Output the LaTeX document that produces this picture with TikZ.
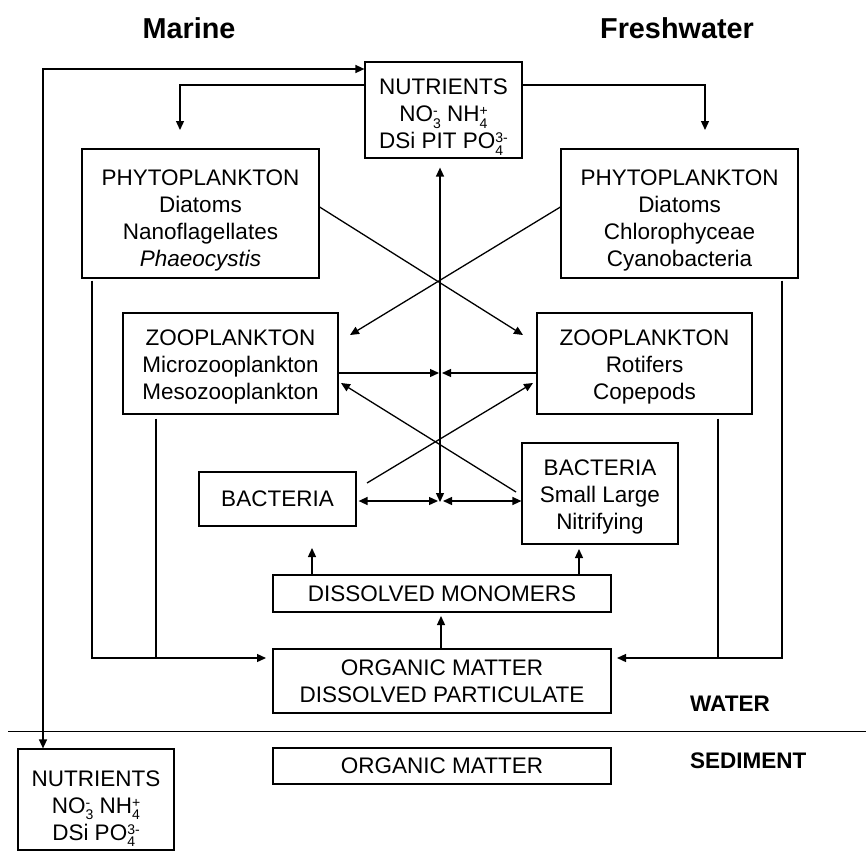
\documentclass[tikz,border=0pt]{standalone}
\usepackage{fontspec}
\setmainfont{Liberation Sans}
\usetikzlibrary{arrows.meta}
\newcommand\sbsp[2]{\smash{\fontsize{14}{14}\selectfont\setbox0=\hbox{#1}\setbox2=\hbox{#2}\dimen0=\wd0 \ifdim\wd2>\dimen0 \dimen0=\wd2\fi\hbox to\dimen0{\rlap{\raisebox{-6.5pt}{\box0}}\raisebox{6pt}{\box2}\hfil}}}
\newcommand\topstrut[1]{\rule{0pt}{#1}}
\begin{document}
\begin{tikzpicture}[x=1pt,y=-1pt,
  >={Triangle[length=9pt,width=8pt]},
  box/.style={draw, line width=1.2pt, inner sep=0pt, align=center, font=\fontsize{22.5}{27}\selectfont},
  ln/.style={line width=1.3pt},
  lab/.style={font=\bfseries\fontsize{22.5}{27}\selectfont, anchor=west, inner sep=0pt},
  head/.style={font=\bfseries\fontsize{28.8}{30}\selectfont, inner sep=0pt}]
\useasboundingbox (0,0) rectangle (866,851);
% headers
\node[head] (marine) at (189,28) {Marine};
\node[head] (fresh) at (677,28) {Freshwater};
% boxes
\node[box, minimum width=157pt, minimum height=96pt] (nutT) at (443.5,110) {\topstrut{24pt}NUTRIENTS\\NO\sbsp{3}{-} NH\sbsp{4}{+}\\DSi PIT PO\sbsp{4}{3-}};
\node[box, minimum width=237pt, minimum height=129pt] (phyM) at (200.5,213.5) {\topstrut{30pt}PHYTOPLANKTON\\Diatoms\\Nanoflagellates\\\textit{Phaeocystis}};
\node[box, minimum width=237pt, minimum height=129pt] (phyF) at (679.5,213.5) {\topstrut{30pt}PHYTOPLANKTON\\Diatoms\\Chlorophyceae\\Cyanobacteria};
\node[box, minimum width=215pt, minimum height=101pt] (zooM) at (230.5,363.5) {\topstrut{22pt}ZOOPLANKTON\\Microzooplankton\\Mesozooplankton};
\node[box, minimum width=215pt, minimum height=101pt] (zooF) at (644.5,363.5) {\topstrut{22pt}ZOOPLANKTON\\Rotifers\\Copepods};
\node[box, minimum width=157pt, minimum height=54pt] (bacM) at (277.5,499) {BACTERIA};
\node[box, minimum width=156pt, minimum height=101pt] (bacF) at (600,493.5) {\topstrut{22pt}BACTERIA\\Small Large\\Nitrifying};
\node[box, minimum width=338pt, minimum height=37pt] (dism) at (442,593.5) {DISSOLVED MONOMERS};
\node[box, minimum width=338pt, minimum height=64pt] (omW) at (442,681) {ORGANIC MATTER\\DISSOLVED PARTICULATE};
\node[box, minimum width=338pt, minimum height=36pt] (omS) at (442,766) {ORGANIC MATTER};
\node[box, minimum width=156pt, minimum height=101pt] (nutS) at (96,799.5) {\topstrut{28pt}NUTRIENTS\\NO\sbsp{3}{-} NH\sbsp{4}{+}\\DSi PO\sbsp{4}{3-}};
% labels
\node[lab] (water) at (690,704) {WATER};
\node[lab] (sed) at (690,761) {SEDIMENT};
% separator
\coordinate (sepL) at (8,731);
\coordinate (sepR) at (866,731);
\draw[line width=1pt] (sepL) -- (sepR);
% coordinates
\coordinate (cL) at (43,69);
\coordinate (cA) at (180,85);
\coordinate (cB) at (705,85);
\coordinate (ctr) at (440,502);
\coordinate (zFtip) at (523,335);
\coordinate (zMtip) at (350,335);
\coordinate (hM) at (439,373);
\coordinate (hF) at (442,373);
\coordinate (bMs) at (367,483);
\coordinate (bFs) at (516,492);
\coordinate (zFb) at (533,383);
\coordinate (zMb) at (341,383);
\coordinate (bl) at (438,501);
\coordinate (br) at (443,501);
\coordinate (d1) at (312,548);
\coordinate (d2) at (579,549);
\coordinate (d3) at (441,616);
\coordinate (fL) at (92,658);
\coordinate (fL2) at (156,658);
\coordinate (fLt) at (266,658);
\coordinate (fR) at (782,658);
\coordinate (fR2) at (718,658);
\coordinate (fRt) at (617,658);
% connectors
\draw[ln,<->] (nutT.west |- cL) -- (cL) -- (cL |- nutS.north);
\draw[ln,->] (nutT.west |- cA) -- (cA) -- ++(0,45);
\draw[ln,->] (nutT.east |- cB) -- (cB) -- ++(0,45);
\draw[ln,<->,shorten <=9pt] (ctr |- nutT.south) -- (ctr);
\draw[ln,->] ([yshift=6.5pt]phyM.east) -- (zFtip);
\draw[ln,->] ([yshift=6.5pt]phyF.west) -- (zMtip);
\draw[ln,->] (zooM.east |- hM) -- (hM);
\draw[ln,->] (zooF.west |- hF) -- (hF);
\draw[ln,->] (bMs) -- (zFb);
\draw[ln,->] (bFs) -- (zMb);
\draw[ln,<->,shorten <=2pt] (bacM.east |- bl) -- (bl);
\draw[ln,<->] (br) -- (bacF.west |- br);
\draw[ln,->] (d1 |- dism.north) -- (d1);
\draw[ln,->] (d2 |- dism.north) -- (d2);
\draw[ln,->] (d3 |- omW.north) -- (d3);
\draw[ln,->,shorten <=2pt] (fL |- phyM.south) -- (fL) -- (fLt);
\draw[ln,shorten <=4pt] (fL2 |- zooM.south) -- (fL2);
\draw[ln,->,shorten <=2pt] (fR |- phyF.south) -- (fR) -- (fRt);
\draw[ln,shorten <=4pt] (fR2 |- zooF.south) -- (fR2);
\end{tikzpicture}
\end{document}
